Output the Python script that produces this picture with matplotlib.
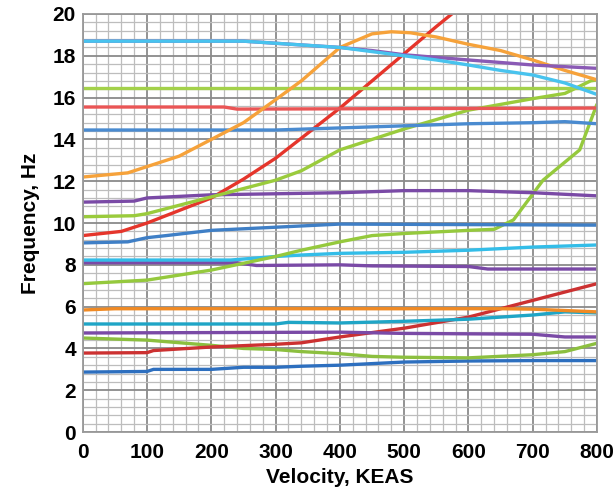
import matplotlib.pyplot as plt
from matplotlib.ticker import MultipleLocator

# mode curves, frequency (Hz) vs velocity (KEAS)
blue_low_x = [0, 100, 110, 200, 250, 300, 340, 400, 500, 600, 700, 800]
blue_low_y = [2.87, 2.9, 3.0, 3.0, 3.1, 3.1, 3.15, 3.2, 3.35, 3.4, 3.42, 3.42]

green_low_x = [0, 100, 200, 250, 300, 340, 400, 450, 500, 600, 700, 750, 800]
green_low_y = [4.5, 4.4, 4.15, 4.0, 3.95, 3.85, 3.75, 3.62, 3.58, 3.55, 3.7, 3.85, 4.25]

red_low_x = [0, 100, 110, 200, 300, 340, 400, 500, 600, 700, 800]
red_low_y = [3.78, 3.8, 3.9, 4.07, 4.2, 4.27, 4.55, 4.97, 5.5, 6.3, 7.1]

purple_low_x = [0, 400, 500, 700, 750, 800]
purple_low_y = [4.74, 4.78, 4.72, 4.68, 4.55, 4.55]

teal_x = [0, 300, 320, 400, 500, 600, 700, 750, 800]
teal_y = [5.17, 5.17, 5.25, 5.22, 5.3, 5.4, 5.6, 5.75, 5.7]

orange_flat_x = [0, 50, 650, 700, 800]
orange_flat_y = [5.84, 5.9, 5.9, 5.88, 5.75]

purple_8_x = [0, 240, 270, 400, 450, 600, 630, 800]
purple_8_y = [8.1, 8.1, 7.97, 8.0, 7.95, 7.92, 7.8, 7.8]

sky_8_x = [0, 230, 300, 340, 400, 500, 600, 700, 800]
sky_8_y = [8.23, 8.23, 8.4, 8.47, 8.55, 8.6, 8.7, 8.85, 8.95]

green_steep_x = [0, 100, 200, 300, 340, 400, 450, 500, 600, 640, 670, 716, 773, 800]
green_steep_y = [7.1, 7.27, 7.75, 8.4, 8.7, 9.1, 9.4, 9.5, 9.65, 9.7, 10.15, 12.05, 13.5, 15.7]

blue_9_x = [0, 70, 100, 130, 200, 300, 400, 800]
blue_9_y = [9.05, 9.1, 9.3, 9.4, 9.65, 9.8, 9.95, 9.9]

red_steep_x = [0, 60, 100, 150, 200, 250, 300, 350, 400, 450, 500, 550, 590]
red_steep_y = [9.4, 9.6, 10.0, 10.6, 11.2, 12.1, 13.1, 14.3, 15.5, 16.8, 18.1, 19.4, 20.4]

purple_11_x = [0, 80, 100, 200, 300, 400, 500, 600, 650, 700, 800]
purple_11_y = [11.0, 11.05, 11.2, 11.35, 11.4, 11.45, 11.55, 11.55, 11.5, 11.45, 11.3]

green_rise_x = [0, 80, 100, 200, 300, 340, 400, 500, 600, 700, 750, 790, 800]
green_rise_y = [10.3, 10.35, 10.45, 11.25, 12.05, 12.5, 13.5, 14.5, 15.4, 15.95, 16.2, 16.8, 16.85]

blue_14_x = [0, 300, 400, 500, 600, 700, 750, 800]
blue_14_y = [14.45, 14.45, 14.55, 14.65, 14.75, 14.8, 14.85, 14.75]

red_flat_x = [0, 220, 240, 800]
red_flat_y = [15.55, 15.55, 15.45, 15.5]

green_flat_x = [0, 800]
green_flat_y = [16.45, 16.45]

orange_hump_x = [0, 70, 100, 150, 200, 250, 300, 340, 400, 450, 480, 510, 550, 600, 650, 700, 750, 800]
orange_hump_y = [12.2, 12.4, 12.7, 13.2, 14.0, 14.8, 15.9, 16.8, 18.4, 19.05, 19.15, 19.1, 18.9, 18.55, 18.25, 17.8, 17.3, 16.85]

purple_top_x = [0, 250, 300, 350, 400, 450, 500, 600, 700, 800]
purple_top_y = [18.7, 18.7, 18.6, 18.5, 18.4, 18.25, 18.05, 17.8, 17.56, 17.4]

sky_top_x = [0, 250, 300, 350, 400, 450, 500, 550, 600, 650, 700, 750, 800]
sky_top_y = [18.7, 18.7, 18.6, 18.5, 18.4, 18.2, 18.0, 17.8, 17.56, 17.3, 17.08, 16.7, 16.15]

curves = [
    (blue_low_x, blue_low_y, '#2d6fbf'),
    (green_low_x, green_low_y, '#8cbf3f'),
    (red_low_x, red_low_y, '#cc3131'),
    (purple_low_x, purple_low_y, '#7a4aa6'),
    (teal_x, teal_y, '#1fa5c6'),
    (orange_flat_x, orange_flat_y, '#f08a24'),
    (purple_8_x, purple_8_y, '#7a4aa6'),
    (sky_8_x, sky_8_y, '#33bde8'),
    (green_steep_x, green_steep_y, '#95c93d'),
    (blue_9_x, blue_9_y, '#3f7fc6'),
    (red_steep_x, red_steep_y, '#e5352b'),
    (purple_11_x, purple_11_y, '#7a4aa6'),
    (green_rise_x, green_rise_y, '#9acb3c'),
    (blue_14_x, blue_14_y, '#4a8bd0'),
    (red_flat_x, red_flat_y, '#ea5555'),
    (green_flat_x, green_flat_y, '#a3d14a'),
    (orange_hump_x, orange_hump_y, '#f6a23a'),
    (purple_top_x, purple_top_y, '#8a5ab5'),
    (sky_top_x, sky_top_y, '#48c3ee'),
]

plt.rcParams['font.family'] = ['Liberation Sans', 'DejaVu Sans']

fig = plt.figure(figsize=(6.13, 4.91), dpi=100)
ax = fig.add_axes([0.135, 0.12, 0.839, 0.8515])

for xs, ys, c in curves:
    ax.plot(xs, ys, color=c, lw=2.4, solid_capstyle='butt')

ax.set_xlim(0, 800)
ax.set_ylim(0, 20)
ax.xaxis.set_major_locator(MultipleLocator(100))
ax.xaxis.set_minor_locator(MultipleLocator(20))
ax.yaxis.set_major_locator(MultipleLocator(2))
ax.yaxis.set_minor_locator(MultipleLocator(0.4))
ax.grid(which='major', color='#8a8a8a', lw=1.3)
ax.grid(which='minor', color='#bdbdbd', lw=0.9)
ax.set_axisbelow(True)
ax.tick_params(which='both', length=0, labelsize=15)
ax.tick_params(axis='x', pad=8)
ax.tick_params(axis='y', pad=5)
for lbl in ax.get_xticklabels() + ax.get_yticklabels():
    lbl.set_fontweight('bold')
for s in ax.spines.values():
    s.set_color('#999999')
    s.set_linewidth(1.3)

ax.set_xlabel('Velocity, KEAS', fontsize=15, fontweight='bold', labelpad=4)
ax.set_ylabel('Frequency, Hz', fontsize=15, fontweight='bold', labelpad=9)

fig.savefig('out.png', dpi=100)
